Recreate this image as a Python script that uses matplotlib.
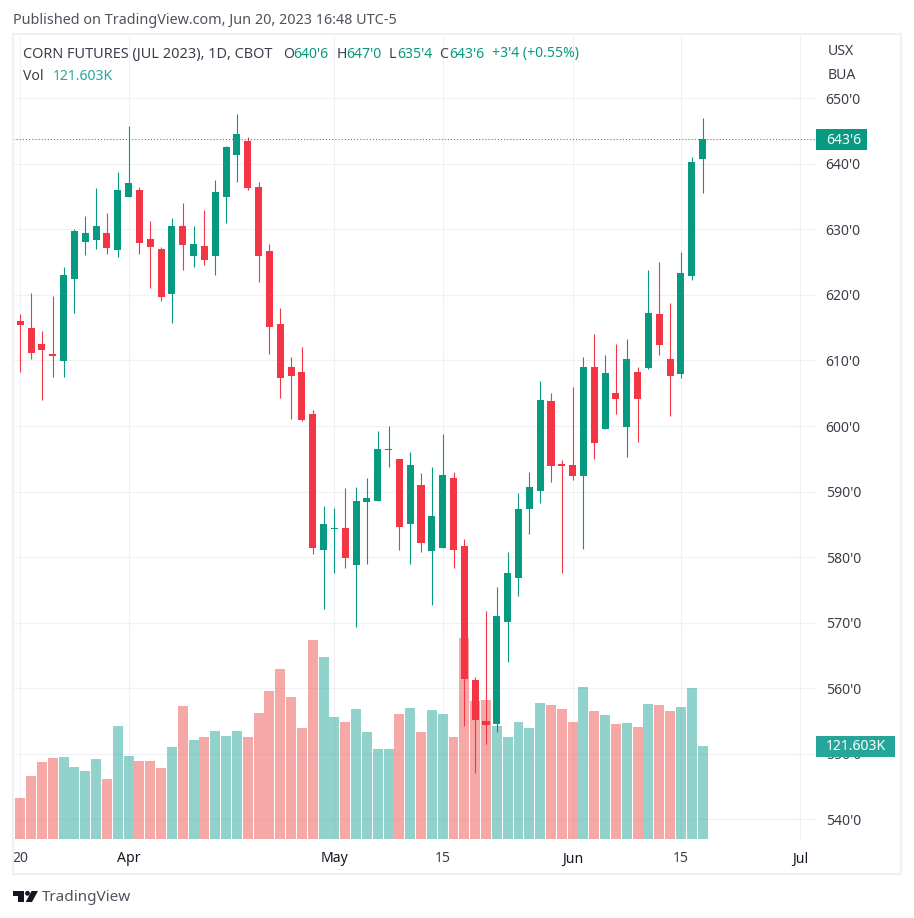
import matplotlib
matplotlib.use("Agg")
import matplotlib.pyplot as plt
from matplotlib.patches import Rectangle, Polygon, Circle

plt.rcParams['font.family'] = ['Noto Sans', 'DejaVu Sans']

# Daily candles, Mar 20 to Jun 20 2023 (cents per bushel)
opens = [616.0, 615.0, 612.5, 611.0, 609.9, 622.45, 628.1, 628.4, 629.45, 626.85,
         634.95, 636.0, 628.55, 627.0, 620.15, 630.5, 625.95, 627.45, 625.95, 634.95,
         641.35, 643.5, 636.45, 626.7, 615.55, 609.0, 608.25, 601.85, 581.1, 584.3,
         584.45, 578.8, 588.4, 588.55, 596.35, 594.95, 585.05, 591.0, 580.95, 581.4,
         592.1, 581.7, 561.25, 555.0, 554.55, 570.1, 576.8, 587.35, 590.1, 603.8,
         594.2, 594.05, 592.4, 609.0, 599.55, 605.05, 599.85, 608.25, 608.85, 617.1,
         610.2, 607.95, 622.9, 640.75]
highs = [617.1, 620.25, 614.5, 619.85, 624.25, 630.0, 632.05, 636.3, 632.5, 638.75,
         645.8, 636.45, 631.3, 627.3, 631.75, 634.05, 630.5, 632.95, 637.55, 642.75,
         647.6, 644.1, 637.25, 627.8, 618.0, 610.55, 612.05, 602.45, 587.8, 587.5,
         590.55, 590.7, 592.1, 599.25, 600.0, 594.95, 596.05, 592.85, 593.75, 598.8,
         593.0, 582.75, 561.7, 571.8, 575.45, 580.8, 589.8, 593.0, 606.85, 605.05,
         594.8, 605.95, 610.55, 614.05, 610.85, 612.5, 613.3, 609.0, 623.8, 625.05,
         618.75, 626.55, 641.05, 647.0]
lows = [608.3, 610.2, 604.0, 607.5, 607.5, 617.25, 626.1, 627.0, 626.25, 625.8,
        634.95, 626.25, 621.05, 619.1, 615.7, 623.8, 624.25, 624.55, 623.05, 631.0,
        637.25, 636.0, 622.0, 611.0, 604.3, 601.1, 600.8, 580.5, 572.1, 577.6,
        578.35, 569.35, 578.95, 588.55, 593.75, 581.1, 578.95, 580.8, 572.7, 581.4,
        578.35, 554.25, 547.05, 551.5, 553.3, 564.0, 574.05, 583.55, 588.25, 591.45,
        577.6, 591.75, 581.25, 594.95, 599.55, 601.85, 595.3, 597.55, 608.7, 610.85,
        601.55, 607.35, 622.3, 635.5]
closes = [615.4, 611.15, 611.6, 610.7, 623.05, 629.75, 629.45, 630.5, 627.15, 636.0,
          637.1, 627.95, 627.3, 619.7, 630.5, 627.6, 627.8, 625.35, 635.7, 642.55,
          644.55, 636.3, 625.95, 615.1, 607.35, 607.65, 600.9, 581.4, 585.05, 584.45,
          579.85, 588.55, 589.05, 596.5, 596.5, 584.6, 594.05, 582.15, 586.3, 592.55,
          581.1, 561.4, 555.15, 554.4, 571.0, 577.6, 587.35, 590.7, 604.0, 593.9,
          593.9, 592.4, 609.0, 597.4, 608.1, 604.15, 610.2, 604.15, 617.25, 612.35,
          607.65, 623.35, 640.3, 643.75]

# Volume in thousands
volumes = [53.6, 82.4, 100.7, 105.9, 107.2, 94.1, 88.9, 104.6, 78.5, 147.8,
           108.5, 102.0, 102.0, 92.8, 120.3, 173.9, 129.4, 133.4, 141.2, 134.7,
           141.2, 133.4, 164.8, 193.5, 222.3, 185.7, 145.1, 260.2, 238.0, 159.5,
           153.0, 170.0, 139.9, 117.7, 117.7, 163.4, 171.3, 139.9, 168.7, 163.4,
           133.4, 262.8, 180.4, 181.8, 147.8, 133.4, 153.0, 145.1, 177.8, 175.2,
           170.0, 153.0, 198.7, 167.4, 162.1, 150.4, 151.7, 146.4, 176.5, 175.2,
           167.4, 172.6, 197.4, 121.603]
prev_volume = 80.2  # the bar cut off at the left edge

price_ticks = [540, 550, 560, 570, 580, 590, 600, 610, 620, 630, 640, 650]
date_ticks = [0, 10, 29, 39, 51, 61, 72]
date_labels = ["20", "Apr", "May", "15", "Jun", "15", "Jul"]
date_weights = ["normal", "bold", "bold", "normal", "bold", "normal", "bold"]

UP = "#089981"
DOWN = "#F23645"
VOL_UP = "#26a69a"
VOL_DOWN = "#ef5350"
GRID = "#f0f1f5"
BORDER = "#f0f0f6"
TEXT = "#3c3f4a"

W, H = 914, 918
fig = plt.figure(figsize=(W / 100, H / 100), dpi=100, facecolor="white")
rect = [13 / W, 1 - 839 / H, 803 / W, 803 / H]

# three layers so the grid stays behind the volume and the volume behind the candles
ax = fig.add_axes(rect, zorder=1)
ax_vol = fig.add_axes(rect, zorder=2)
ax_c = fig.add_axes(rect, zorder=3)
px = fig.add_axes([0, 0, 1, 1], zorder=4)

xlim = (-0.674, 73.47)
for a in (ax, ax_vol, ax_c):
    a.set_xlim(xlim)
    for s in a.spines.values():
        s.set_visible(False)
for a in (ax_vol, ax_c):
    a.patch.set_alpha(0)
    a.set_xticks([])
    a.set_yticks([])
ax.set_ylim(537.0, 659.5)
ax_c.set_ylim(537.0, 659.5)
ax_vol.set_ylim(0, 1050)

ax.set_yticks(price_ticks)
ax.set_yticklabels([f"{p}'0" for p in price_ticks], fontsize=10.1, color=TEXT)
ax.yaxis.tick_right()
ax.tick_params(axis="y", length=0, pad=7)
ax.set_xticks(date_ticks)
ax.set_xticklabels(date_labels, fontsize=10.1, color=TEXT)
for lab, w in zip(ax.get_xticklabels(), date_weights):
    lab.set_fontweight(w)
    if w == "bold":
        lab.set_color("#131722")
ax.tick_params(axis="x", length=0, pad=9)
ax.grid(color=GRID, linewidth=0.8)
ax.set_axisbelow(True)

idx = list(range(len(closes)))
colors = [UP if c >= o else DOWN for o, c in zip(opens, closes)]
vol_colors = [VOL_UP if c >= o else VOL_DOWN for o, c in zip(opens, closes)]

ax_vol.bar([-1] + idx, [prev_volume] + volumes, width=0.92,
           color=[VOL_UP] + vol_colors, alpha=0.5, linewidth=0)

last_line = ax_c.axhline(closes[-1], color=UP, linewidth=0.75, linestyle=(0, (1, 2)), zorder=1)
last_line.set_snap(True)
wicks = ax_c.vlines(idx, lows, highs, colors=colors, linewidth=0.8, zorder=2)
wicks.set_snap(True)
ax_c.bar(idx, [abs(c - o) for o, c in zip(opens, closes)],
         bottom=[min(o, c) for o, c in zip(opens, closes)],
         width=0.65, color=colors, linewidth=0, zorder=3)

# overlay in pixel coordinates for header, price tags, frame and logo
px.set_xlim(0, W)
px.set_ylim(H, 0)
px.axis("off")
px.patch.set_alpha(0)

px.add_patch(Rectangle((13, 34), 888, 840, fill=False, edgecolor=BORDER, linewidth=1.6))

px.text(13, 21, "Published on TradingView.com, Jun 20, 2023 16:48 UTC-5",
        fontsize=10.37, color="#50535e", va="center")

px.text(23, 54, "CORN FUTURES (JUL 2023), 1D, CBOT", fontsize=10.43, color=TEXT, va="center")
legend_bits = [(283, "O", TEXT), (293, "640'6", UP), (337, "H", TEXT), (346, "647'0", UP),
               (389, "L", TEXT), (397, "635'4", UP), (439, "C", TEXT), (449, "643'6", UP),
               (492, "+3'4 (+0.55%)", UP)]
for x, s, c in legend_bits:
    px.text(x, 54, s, fontsize=10.1, color=c, va="center")
px.text(23, 76, "Vol", fontsize=10.1, color=TEXT, va="center")
px.text(53, 76, "121.603K", fontsize=10.1, color=VOL_UP, va="center")

px.text(828, 51.5, "USX", fontsize=10.1, color=TEXT, va="center")
px.text(828, 75.5, "BUA", fontsize=10.1, color=TEXT, va="center")

px.add_patch(Rectangle((816, 129), 51, 21, facecolor=UP, edgecolor="none"))
px.text(826, 140, "643'6", fontsize=10.1, color="white", va="center", fontweight="semibold")
px.add_patch(Rectangle((816, 736), 79, 21, facecolor=VOL_UP, edgecolor="none"))
px.text(826, 747, "121.603K", fontsize=10.1, color="white", va="center", fontweight="semibold")

# TradingView logo
logo = "#131722"
px.add_patch(Polygon([(13.3, 891), (23.7, 891), (23.7, 902), (18, 902), (18, 896), (13.3, 896)],
                     facecolor=logo, edgecolor="none"))
px.add_patch(Circle((27.5, 893.3), 2.4, facecolor=logo, edgecolor="none"))
px.add_patch(Polygon([(31.5, 891), (38, 891), (32, 902), (25.7, 902)], facecolor=logo, edgecolor="none"))
px.text(42, 897.5, "TradingView", fontsize=11, color="#50535e", va="center")

fig.savefig("out.png", dpi=100)
